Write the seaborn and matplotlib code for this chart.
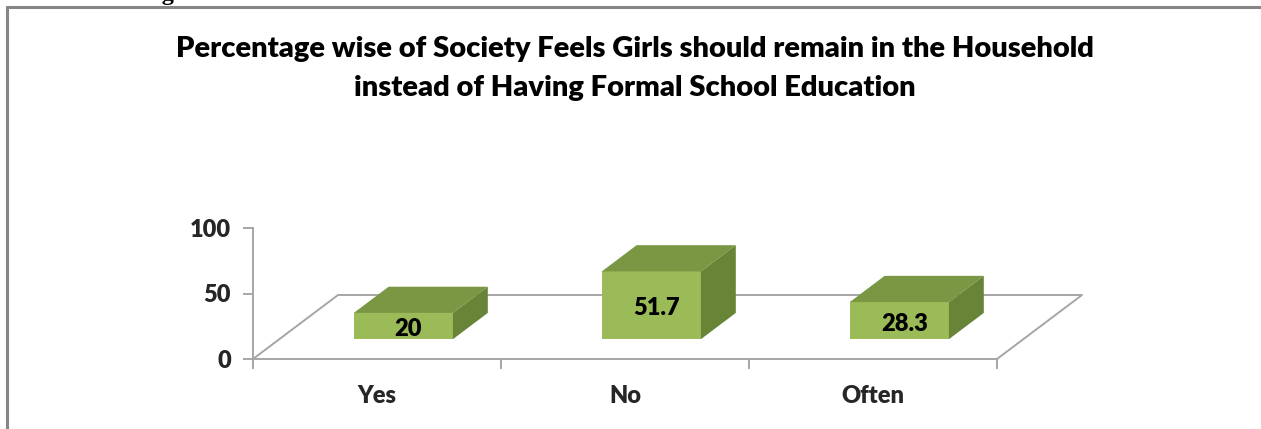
import matplotlib
matplotlib.use("Agg")
import matplotlib.pyplot as plt
from matplotlib.patches import Polygon
from matplotlib.lines import Line2D
import seaborn as sns
import pandas as pd

# Survey responses (percent)
categories = ["Yes", "No", "Often"]
values = [20, 51.7, 28.3]
value_labels = ["20", "51.7", "28.3"]
y_ticks = [0, 50, 100]

title_lines = ["Percentage wise of Society Feels Girls should remain in the Household",
               "instead of Having Formal School Education"]
heading_above = "stead of Having Formal School Education"

FRONT = "#9bbb59"
TOP = "#7a9843"
SIDE = "#688436"
GRID = "#a6a6a6"
FONT = "Lato"
WEIGHT = "heavy"

sns.set_theme(style="white")
plt.rcParams["font.family"] = [FONT, "DejaVu Sans"]

W, H = 1261, 429
fig = plt.figure(figsize=(W / 100, H / 100), dpi=100)

# outer chart frame (open to the right and bottom)
fig.add_artist(Line2D([7 / W, 7 / W], [0, 1 - 7 / H], color="#868686", lw=2.2,
                      transform=fig.transFigure))
fig.add_artist(Line2D([7 / W, 1], [1 - 7 / H, 1 - 7 / H], color="#868686", lw=2.2,
                      transform=fig.transFigure))
# heading of the page above the chart, running off the top edge
fig.text(12 / W, 1.0, heading_above, family="Liberation Serif", weight="bold",
         fontsize=17.5, color="black", ha="left", va="baseline")

# front plane of the plot: x from 253 to 997 px, values 0..100 from y=359 to 228
ax = fig.add_axes([253 / W, (H - 359) / H, 744 / W, 131 / H])

df = pd.DataFrame({"category": categories, "value": values})
sns.barplot(data=df, x="category", y="value", color=FRONT, width=0.40,
            saturation=1, ax=ax, zorder=3)
ax.set_xlim(-0.5, len(categories) - 0.5)
ax.set_ylim(0, 100)

# pixel -> data conversion
px_x = 744 / len(categories)
px_y = 131 / 100
floor_dx, floor_dy = 85 / px_x, 64 / px_y
f0, f1 = 0.31, 0.72  # depth fractions of bar front / back

# floor outline
x0, x1 = -0.5, len(categories) - 0.5
ax.plot([x0, x0 + floor_dx, x1 + floor_dx, x1],
        [0, floor_dy, floor_dy, 0], color=GRID, lw=1.4, zorder=1, clip_on=False)

for patch, lab in zip(ax.patches, value_labels):
    bx, bw, bh = patch.get_x(), patch.get_width(), patch.get_height()
    sx, sy = bx + f0 * floor_dx, f0 * floor_dy
    dx, dy = (f1 - f0) * floor_dx, (f1 - f0) * floor_dy
    patch.set_x(sx)
    patch.set_y(sy)
    patch.set_edgecolor("none")
    patch.set_clip_on(False)
    top = Polygon([(sx, sy + bh), (sx + bw, sy + bh), (sx + bw + dx, sy + bh + dy),
                   (sx + dx, sy + bh + dy)], closed=True, facecolor=TOP,
                  edgecolor="none", zorder=3, clip_on=False)
    side = Polygon([(sx + bw, sy), (sx + bw + dx, sy + dy), (sx + bw + dx, sy + bh + dy),
                    (sx + bw, sy + bh)], closed=True, facecolor=SIDE,
                   edgecolor="none", zorder=3, clip_on=False)
    ax.add_patch(top)
    ax.add_patch(side)
    ax.text(sx + bw / 2 + 5 / px_x, sy + bh / 2 - 3 / px_y, lab, ha="center",
            va="center", fontsize=17, weight=WEIGHT, color="black", zorder=5)

# axes styling
for s in ["top", "right"]:
    ax.spines[s].set_visible(False)
for s in ["left", "bottom"]:
    ax.spines[s].set_color(GRID)
    ax.spines[s].set_linewidth(1.4)
    ax.spines[s].set_zorder(1)
ax.set_yticks(y_ticks)
ax.set_yticklabels([str(t) for t in y_ticks], fontsize=17, weight=WEIGHT)
ax.tick_params(axis="y", length=7, width=1.4, color=GRID, pad=9, left=True)
ax.set_xticks(range(len(categories)))
ax.set_xticklabels(categories, fontsize=17, weight=WEIGHT)
ax.set_xticks([i - 0.5 for i in range(len(categories) + 1)], minor=True)
ax.tick_params(axis="x", which="major", length=0, pad=19)
ax.tick_params(axis="x", which="minor", length=7, width=1.4, color=GRID, bottom=True)
ax.set_xlabel("")
ax.set_ylabel("")
ax.patch.set_alpha(0)

for line, yc in zip(title_lines, [49, 88]):
    fig.text(635 / W, 1 - yc / H, line, ha="center", va="center", fontsize=21,
             weight=WEIGHT, color="black")

fig.savefig("out.png", dpi=100)
